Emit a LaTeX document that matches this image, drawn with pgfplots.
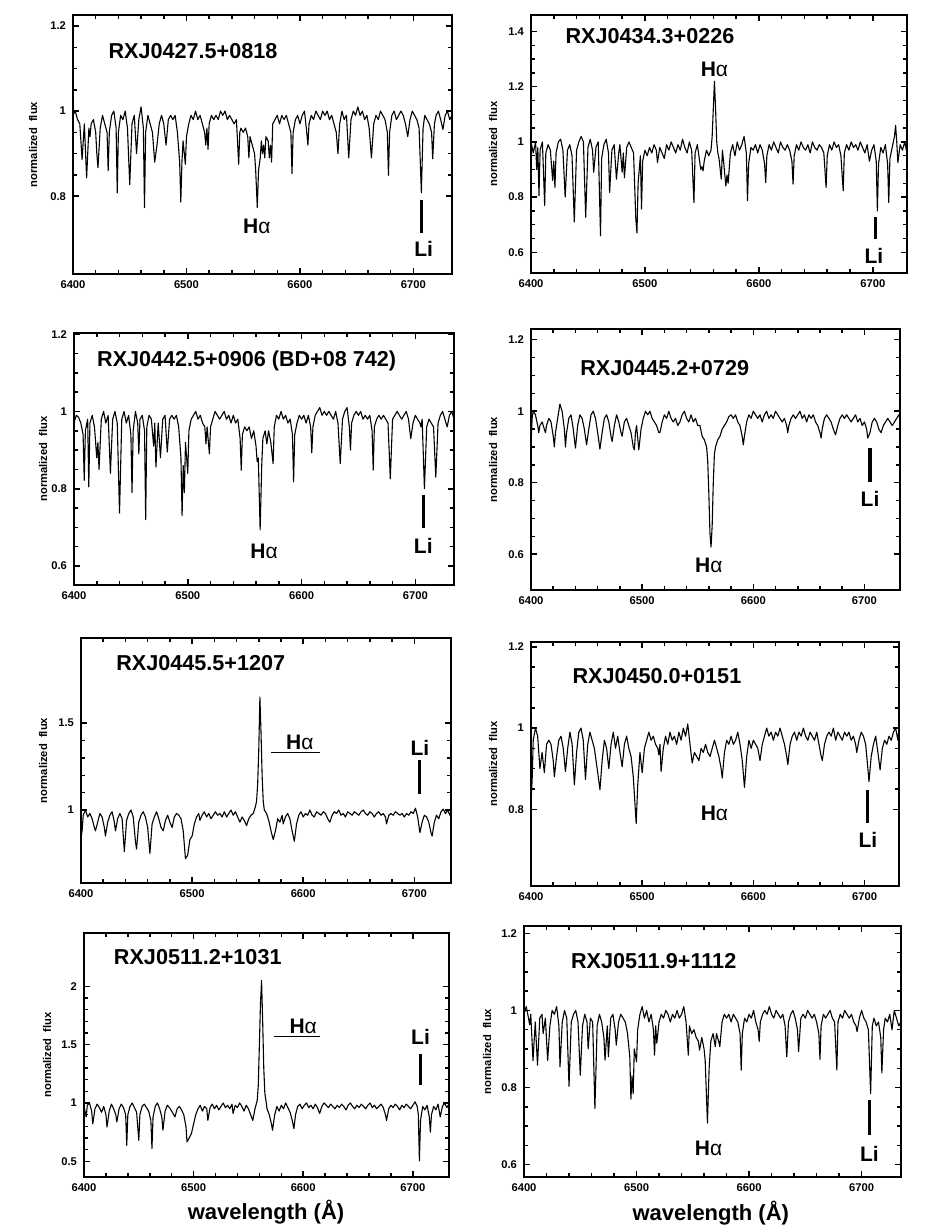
\documentclass[border=0pt]{standalone}
\usepackage{pgfplots}
\pgfplotsset{compat=1.18}
\usepackage{fontspec}
\setmainfont{Liberation Sans}

\newcommand\tickfont{\fontsize{5.6}{6.5}\selectfont\bfseries}
\newcommand\ttl{\fontsize{10.8}{12}\selectfont\bfseries}
\newcommand\lab{\fontsize{10.5}{12}\selectfont\bfseries}
\newcommand\ylab{\fontsize{5.6}{6.5}\selectfont\bfseries}
\newcommand\Ha{H{\mdseries α}}

\tikzset{libar/.style={line width=1.6pt}}
\pgfplotsset{
  spec/.style={
    scale only axis, anchor=south west,
    xmin=6400, xmax=6734,
    xtick={6400,6500,6600,6700}, minor x tick num=4, minor y tick num=3,
    tick align=inside, tick pos=both,
    axis line style={line width=0.8pt},
    major tick style={black, line width=0.75pt},
    minor tick style={black, line width=0.75pt},
    major tick length=3pt, minor tick length=1.9pt,
    xticklabel style={font=\tickfont},
    yticklabel style={font=\tickfont},
    /pgf/number format/1000 sep={},
    /pgf/number format/assume math mode=true,
    clip=true,
  },
  sp/.style={black, line width=0.55pt, line join=round},
}

\begin{document}
\begin{tikzpicture}
\useasboundingbox (0,0) rectangle (464.5pt,613pt);

% ---------- row 1 left
\begin{axis}[spec, at={(36.5pt,476pt)}, width=189.5pt, height=129.5pt,
  ymin=0.617, ymax=1.226, ytick={0.8,1,1.2}]
\addplot[sp] coordinates {
(6400,.99)(6402,1.0)(6404,.98)(6406,.97)(6408,.886)(6410,.97)(6412,.843)(6414,.96)(6415,.94)(6416,.97)
(6418,.98)(6420,.95)(6421,.90)(6422,.867)(6424,.96)(6426,.99)(6428,.97)(6430,.95)(6431,.86)(6432,.95)
(6434,.99)(6436,1.0)(6438,.96)(6439,.808)(6440,.95)(6442,.99)(6444,.98)(6446,1.0)(6448,.96)(6450,.827)
(6452,.97)(6454,.99)(6456,.90)(6458,.98)(6460,1.01)(6462,.96)(6463,.773)(6464,.95)(6466,.99)(6468,.97)
(6470,.95)(6472,.88)(6474,.92)(6476,.97)(6478,.99)(6480,.97)(6482,.92)(6484,.98)(6486,.99)(6488,.98)
(6490,.99)(6492,.95)(6494,.88)(6495,.786)(6496,.88)(6497,.93)(6499,.875)(6500,.94)(6502,.97)(6504,.99)
(6506,.98)(6508,1.0)(6510,.98)(6512,.99)(6514,.97)(6516,.95)(6517,.92)(6518,.96)(6519,.91)(6520,.97)
(6522,.99)(6524,.98)(6526,.99)(6528,.98)(6530,1.0)(6532,.99)(6534,1.0)(6536,.98)(6538,.99)(6540,.98)
(6542,.97)(6544,.98)(6546,.875)(6547,.95)(6548,.96)(6550,.95)(6552,.96)(6554,.94)(6555,.89)(6556,.94)
(6558,.92)(6560,.90)(6561,.86)(6562.4,.773)(6563.5,.86)(6565,.89)(6566,.93)(6567,.90)(6568,.92)(6569,.89)
(6570,.94)(6572,.93)(6573,.89)(6574,.92)(6575,.88)(6576,.97)(6578,.98)(6580,.99)(6582,.97)(6584,.99)
(6586,.98)(6588,.99)(6590,.97)(6592,.95)(6593,.853)(6594,.95)(6596,.98)(6598,.99)(6600,.97)(6602,.99)
(6604,1.0)(6606,.95)(6607,.92)(6608,.97)(6610,.99)(6612,.98)(6614,1.0)(6616,.99)(6618,.98)(6620,1.0)
(6622,.99)(6624,1.0)(6626,.98)(6628,.99)(6630,.97)(6632,.95)(6633.5,.90)(6635,.97)(6637,1.0)(6639,.98)
(6641,.99)(6643,.89)(6645,.98)(6647,1.0)(6649,.99)(6651,1.01)(6653,.99)(6655,1.0)(6657,.98)(6659,.99)
(6661,.96)(6663,.89)(6665,.97)(6667,.99)(6669,.98)(6671,1.0)(6673,.99)(6675,.98)(6677,.95)(6678,.849)
(6679,.95)(6681,.99)(6683,1.0)(6685,.98)(6687,.99)(6689,1.0)(6691,.99)(6693,.97)(6695,.94)(6697,.98)
(6699,1.0)(6701,.99)(6703,.98)(6705,.96)(6707,.808)(6708.5,.96)(6710,.99)(6712,.98)(6714,.97)(6716,.95)
(6717,.888)(6718.5,.97)(6720,.99)(6722,1.0)(6724,.98)(6726,.957)(6728,.99)(6730,1.0)(6732,.98)(6734,.99)
};
\node[anchor=west, inner sep=0pt, font=\ttl] at (axis cs:6431,1.141) {RXJ0427.5+0818};
\node[inner sep=0pt, font=\lab] at (axis cs:6562,0.73) {\Ha};
\draw[libar] (axis cs:6707,0.792) -- (axis cs:6707,0.714);
\node[inner sep=0pt, font=\lab] at (axis cs:6709,0.675) {Li};
\end{axis}

% ---------- row 1 right
\begin{axis}[spec, at={(265.5pt,476.5pt)}, width=188pt, height=129pt,
  xmax=6730, ymin=0.525, ymax=1.46, ytick={0.6,0.8,1,1.2,1.4}]
\addplot[sp] coordinates {
(6400,1.0)(6402,.96)(6404,1.0)(6405,.90)(6406,.98)(6407,.805)(6408,.97)(6410,1.0)(6412,.77)(6413,.96)
(6415,.99)(6417,.97)(6419,.86)(6420,.93)(6421,.835)(6422,.96)(6424,1.0)(6426,1.01)(6428,.97)(6430,.80)
(6432,.97)(6434,.99)(6436,.95)(6438,.71)(6440,.97)(6442,1.0)(6444,1.02)(6446,1.0)(6448,.727)(6450,.98)
(6452,1.01)(6454,.97)(6455,.89)(6457,.98)(6459,1.0)(6461,.66)(6462,.94)(6464,.99)(6466,1.01)(6468,.96)
(6469,.817)(6471,.97)(6473,.99)(6475,.865)(6477,.96)(6478,.99)(6480,.89)(6481,.96)(6482,.87)(6484,.98)
(6486,1.0)(6488,.98)(6490,.96)(6492,.72)(6493,.67)(6494,.85)(6496,.95)(6497,.757)(6498,.93)(6500,.97)
(6502,.95)(6504,.98)(6506,.96)(6508,.99)(6510,.97)(6511,.925)(6513,.98)(6515,.96)(6517,.94)(6519,.99)
(6521,.97)(6523,1.0)(6525,.98)(6527,.96)(6529,.99)(6531,.97)(6533,1.01)(6535,.98)(6537,.96)(6539,1.0)
(6541,.97)(6543,.78)(6544,.96)(6546,.99)(6548,.93)(6549,.90)(6550,.91)(6551,.895)(6552,.93)(6554,.97)
(6556,.95)(6558,.97)(6559,1.02)(6560,1.12)(6561,1.22)(6562,1.12)(6563,1.0)(6564,.96)(6565,.94)(6567,.865)
(6568,.97)(6569,.93)(6571,.84)(6572,.88)(6573,.85)(6575,.96)(6577,.99)(6579,.95)(6581,1.0)(6583,.97)
(6585,.99)(6587,1.02)(6589,.96)(6590,.787)(6591,.92)(6593,.98)(6595,.97)(6597,.99)(6599,.96)(6601,.99)
(6603,.97)(6605,.92)(6606,.853)(6607,.95)(6609,.99)(6611,.97)(6613,1.0)(6615,.98)(6617,.96)(6619,1.0)
(6621,.98)(6623,.97)(6625,.99)(6627,.97)(6629,.93)(6630,.847)(6631,.95)(6633,.99)(6635,.97)(6637,1.0)
(6639,.98)(6641,.97)(6643,.99)(6645,.96)(6647,1.0)(6649,.98)(6651,.97)(6653,.99)(6655,.98)(6657,.96)
(6659,.835)(6660,.95)(6662,.99)(6664,.97)(6666,1.0)(6668,.98)(6670,.99)(6672,.95)(6674,.823)(6675,.96)
(6677,.99)(6679,.97)(6681,1.0)(6683,.98)(6685,.99)(6687,.97)(6689,1.0)(6691,.98)(6693,.96)(6695,.99)
(6697,.93)(6699,.97)(6701,.99)(6703,.93)(6704,.75)(6705,.92)(6707,.98)(6709,.96)(6711,.99)(6713,.92)
(6714,.78)(6715,.94)(6717,.98)(6719,1.02)(6720,1.06)(6721,1.0)(6722,.925)(6724,.99)(6726,.97)(6728,1.0)
(6730,.96)
};
\node[anchor=west, inner sep=0pt, font=\ttl] at (axis cs:6430,1.383) {RXJ0434.3+0226};
\node[inner sep=0pt, font=\lab] at (axis cs:6561,1.263) {\Ha};
\draw[libar] (axis cs:6702,0.727) -- (axis cs:6702,0.648);
\node[inner sep=0pt, font=\lab] at (axis cs:6701,0.588) {Li};
\end{axis}

% ---------- row 2 left
\begin{axis}[spec, at={(37pt,320.5pt)}, width=190pt, height=126pt,
  ymin=0.551, ymax=1.203, ytick={0.6,0.8,1,1.2}]
\addplot[sp] coordinates {
(6400,.97)(6402,.99)(6404,.985)(6406,.97)(6408,.94)(6409,.822)(6410,.95)(6412,.98)(6413,.805)(6414,.97)
(6416,.99)(6418,.96)(6420,.88)(6421,.92)(6422,.85)(6424,.98)(6426,1.0)(6428,.97)(6430,.99)(6432,.84)
(6434,.98)(6436,1.0)(6438,.97)(6440,.737)(6442,.98)(6444,1.0)(6446,.97)(6448,.99)(6450,.94)(6451,.79)
(6452,.95)(6454,1.0)(6456,.97)(6457,.89)(6458,.98)(6460,.99)(6462,.95)(6463,.72)(6464,.96)(6466,.99)
(6468,.98)(6470,.91)(6471,.97)(6472,.856)(6474,.97)(6476,.88)(6478,.98)(6480,.99)(6482,.895)(6484,.98)
(6486,.99)(6488,.98)(6490,.99)(6492,.96)(6494,.88)(6495,.73)(6496,.86)(6497,.79)(6498,.92)(6500,.84)
(6501,.95)(6503,.98)(6505,.99)(6507,1.0)(6509,.98)(6511,.99)(6513,.97)(6515,.96)(6516,.916)(6517,.96)
(6519,.89)(6520,.96)(6522,.98)(6524,1.0)(6526,.99)(6528,.98)(6530,.99)(6532,1.0)(6534,.98)(6536,.99)
(6538,.97)(6540,.99)(6542,.97)(6544,.98)(6546,.93)(6547,.848)(6548,.94)(6550,.96)(6552,.95)(6554,.96)
(6556,.93)(6558,.95)(6560,.91)(6561,.87)(6562,.88)(6563.6,.694)(6565,.86)(6566,.93)(6568,.95)(6569.5,.916)
(6571,.95)(6573,.92)(6575,.865)(6576,.96)(6578,.99)(6580,.98)(6582,1.0)(6584,.98)(6586,.99)(6588,.97)
(6590,.98)(6592,.94)(6593,.818)(6594,.94)(6596,.97)(6598,.99)(6600,.98)(6602,.99)(6604,.97)(6606,.99)
(6608,.96)(6609,.893)(6610,.96)(6612,.99)(6614,1.0)(6616,1.01)(6618,.99)(6620,1.0)(6622,.99)(6624,1.0)
(6626,.99)(6628,.98)(6630,1.0)(6632,.97)(6634,.865)(6636,.98)(6638,1.0)(6640,1.01)(6642,.96)(6643,.90)
(6644,.97)(6646,.99)(6648,1.0)(6650,.99)(6652,1.0)(6654,.98)(6656,.99)(6658,.98)(6660,.99)(6662,.95)
(6663,.848)(6664,.96)(6666,.98)(6668,.99)(6670,.98)(6672,.99)(6674,.98)(6676,.97)(6678,.826)(6680,.98)
(6682,.99)(6684,1.0)(6686,.99)(6688,.98)(6690,.99)(6692,1.0)(6694,.98)(6696,.93)(6698,.97)(6700,.99)
(6702,.98)(6704,.97)(6705,.96)(6706,.98)(6708,.80)(6710,.96)(6712,.98)(6714,.97)(6716,.96)(6718,.83)
(6720,.97)(6722,.99)(6724,1.0)(6726,.98)(6728,.96)(6730,.99)(6732,1.0)(6734,.98)
};
\node[anchor=west, inner sep=0pt, font=\ttl] at (axis cs:6420,1.13) {RXJ0442.5+0906 (BD+08 742)};
\node[inner sep=0pt, font=\lab] at (axis cs:6567,0.638) {\Ha};
\draw[libar] (axis cs:6707,0.784) -- (axis cs:6707,0.698);
\node[inner sep=0pt, font=\lab] at (axis cs:6707,0.651) {Li};
\end{axis}

% ---------- row 2 right
\begin{axis}[spec, at={(265.5pt,318pt)}, width=184.5pt, height=130.5pt,
  xmax=6732, ymin=0.50, ymax=1.23, ytick={0.6,0.8,1,1.2}]
\addplot[sp] coordinates {
(6400,.90)(6401,.98)(6402,1.0)(6404,.99)(6406,.96)(6407,.94)(6408,.96)(6410,.97)(6412,.95)(6413,.94)
(6414,.96)(6416,.98)(6418,.97)(6420,.93)(6421,.90)(6422,.94)(6424,.98)(6426,1.02)(6428,1.0)(6430,.95)
(6431,.90)(6432,.94)(6434,.98)(6436,.99)(6438,.95)(6440,.897)(6442,.96)(6444,.99)(6446,.98)(6448,.95)
(6450,.906)(6452,.95)(6454,.99)(6456,1.0)(6458,.98)(6460,.94)(6462,.894)(6464,.94)(6466,.98)(6468,.99)
(6470,.97)(6472,.93)(6473,.915)(6475,.96)(6477,.99)(6479,.97)(6481,.94)(6482,.93)(6484,.97)(6486,.98)
(6488,.96)(6490,.94)(6492,.90)(6493,.892)(6494,.94)(6495,.96)(6497,.892)(6499,.95)(6501,.98)(6503,1.0)
(6505,.99)(6507,1.0)(6509,.98)(6511,.97)(6513,.96)(6515,.94)(6516,.94)(6518,.97)(6520,.99)(6522,.98)
(6524,1.0)(6526,.98)(6528,.97)(6530,.98)(6532,.96)(6534,.97)(6536,.99)(6538,1.0)(6540,.98)(6542,.97)
(6544,.99)(6546,.97)(6548,.98)(6550,.96)(6552,.96)(6554,.93)(6556,.92)(6558,.90)(6559,.86)(6560,.77)
(6561,.66)(6562,.62)(6563,.68)(6564,.80)(6565,.88)(6566,.90)(6568,.92)(6570,.93)(6572,.95)(6574,.96)
(6576,.97)(6578,.985)(6580,.99)(6582,.98)(6584,.99)(6586,.97)(6588,.96)(6590,.93)(6591,.906)(6592,.93)
(6594,.97)(6596,.99)(6598,.98)(6600,1.0)(6602,.99)(6604,.98)(6606,.99)(6608,.97)(6610,.99)(6612,1.0)
(6614,.98)(6616,.99)(6618,.98)(6620,1.0)(6622,.99)(6624,.98)(6626,.97)(6628,.98)(6630,.96)(6631,.94)
(6632,.96)(6634,.98)(6636,.99)(6638,.98)(6640,.99)(6642,1.0)(6644,.98)(6646,.99)(6648,.97)(6650,.99)
(6652,.98)(6654,.99)(6656,.97)(6658,.96)(6660,.94)(6661,.925)(6662,.95)(6664,.98)(6666,.99)(6668,.98)
(6670,.97)(6672,.95)(6674,.934)(6676,.96)(6678,.98)(6680,.99)(6682,.98)(6684,.99)(6686,.98)(6688,.97)
(6690,.98)(6692,.99)(6694,.97)(6696,.98)(6698,.96)(6700,.97)(6702,.95)(6703,.925)(6705,.94)(6707,.97)
(6709,.98)(6711,.97)(6713,.95)(6715,.94)(6717,.96)(6719,.97)(6721,.98)(6723,.97)(6725,.96)(6727,.97)
(6729,.98)(6731,.99)(6732,.98)
};
\node[anchor=west, inner sep=0pt, font=\ttl] at (axis cs:6444,1.122) {RXJ0445.2+0729};
\node[inner sep=0pt, font=\lab] at (axis cs:6560,0.568) {\Ha};
\draw[libar] (axis cs:6705,0.897) -- (axis cs:6705,0.803);
\node[inner sep=0pt, font=\lab] at (axis cs:6705,0.756) {Li};
\end{axis}

% ---------- row 3 left
\begin{axis}[spec, at={(40.5pt,171.5pt)}, width=185pt, height=122.5pt,
  xmax=6733, ymin=0.58, ymax=1.99, ytick={1,1.5}, minor y tick num=4]
\addplot[sp] coordinates {
(6400,.84)(6401,.88)(6402,.97)(6404,1.0)(6406,.96)(6408,.98)(6410,.95)(6412,.90)(6413,.88)(6415,.93)
(6417,.98)(6419,.96)(6421,.90)(6422,.85)(6424,.93)(6426,.97)(6428,.99)(6430,.93)(6431,.88)(6433,.95)
(6435,.98)(6437,.95)(6439,.76)(6441,.94)(6443,.98)(6445,1.0)(6447,.96)(6449,.82)(6450,.775)(6452,.93)
(6454,.97)(6456,.99)(6458,.96)(6460,.90)(6462,.75)(6464,.92)(6466,.96)(6468,.99)(6470,.95)(6472,.90)
(6474,.88)(6476,.94)(6478,.97)(6480,.93)(6482,.90)(6484,.96)(6486,.98)(6488,.97)(6490,.95)(6492,.88)
(6494,.72)(6496,.74)(6498,.83)(6500,.85)(6502,.92)(6504,.96)(6506,.98)(6507,.94)(6509,.97)(6511,.99)
(6513,.96)(6515,.98)(6517,.95)(6519,.97)(6521,.99)(6523,.97)(6525,.98)(6527,.96)(6529,.99)(6531,.96)
(6533,.98)(6535,1.0)(6537,.97)(6539,.99)(6541,.96)(6543,.93)(6545,.96)(6547,.94)(6549,.91)(6551,.95)
(6553,.97)(6555,.98)(6557,1.02)(6558,1.05)(6559,1.15)(6560,1.35)(6561,1.65)(6562,1.45)(6563,1.2)(6564,1.05)
(6565,1.0)(6567,.98)(6569,.94)(6571,.88)(6573,.83)(6575,.88)(6577,.95)(6579,.93)(6581,.97)(6582,.92)
(6584,.96)(6586,.98)(6588,.95)(6590,.88)(6592,.82)(6594,.92)(6596,.97)(6598,.99)(6600,.96)(6602,.98)
(6604,.97)(6606,1.0)(6608,.97)(6610,.96)(6612,.99)(6614,.98)(6616,.97)(6618,.99)(6620,.98)(6622,.95)
(6624,.93)(6626,.97)(6628,.99)(6630,.98)(6632,1.0)(6634,.97)(6636,.98)(6638,.96)(6640,.99)(6642,.98)
(6644,.97)(6646,.99)(6648,.98)(6650,.97)(6652,.99)(6654,1.0)(6656,.98)(6658,.97)(6660,.99)(6662,.98)
(6664,.96)(6666,.98)(6668,.99)(6670,.97)(6672,.98)(6674,.96)(6675,.92)(6677,.97)(6679,.98)(6681,.97)
(6683,.99)(6685,.98)(6687,.97)(6689,.98)(6691,.96)(6693,.98)(6695,.97)(6697,.99)(6699,.98)(6701,1.01)
(6703,.96)(6705,.87)(6707,.93)(6709,.97)(6711,.96)(6713,.93)(6715,.87)(6716,.85)(6718,.93)(6720,.97)
(6722,.95)(6724,.99)(6726,1.005)(6728,.98)(6730,1.0)(6732,.97)(6733,.99)
};
\node[anchor=west, inner sep=0pt, font=\ttl] at (axis cs:6431.5,1.846) {RXJ0445.5+1207};
\node[inner sep=0pt, font=\lab] at (axis cs:6597,1.39) {\Ha};
\draw[line width=0.6pt] (axis cs:6571,1.333) -- (axis cs:6615,1.333);
\node[inner sep=0pt, font=\lab] at (axis cs:6705,1.36) {Li};
\draw[libar] (axis cs:6705,1.285) -- (axis cs:6705,1.09);
\end{axis}

% ---------- row 3 right
\begin{axis}[spec, at={(265.5pt,170pt)}, width=184pt, height=122pt,
  xmax=6731, ymin=0.611, ymax=1.212, ytick={0.8,1,1.2}]
\addplot[sp] coordinates {
(6400,.82)(6401,.87)(6402,.97)(6404,1.0)(6406,.98)(6408,.90)(6410,.94)(6412,.89)(6414,.96)(6416,.97)
(6418,.96)(6420,.92)(6421,.88)(6423,.93)(6425,.97)(6427,.98)(6429,.95)(6431,.893)(6433,.95)(6435,.99)
(6437,.96)(6439,.86)(6441,.94)(6443,.99)(6445,1.0)(6447,.97)(6449,.873)(6451,.96)(6453,.99)(6455,.97)
(6457,.95)(6459,.91)(6461,.87)(6462,.848)(6464,.92)(6466,.97)(6468,.95)(6470,.90)(6472,.96)(6474,.99)
(6476,.95)(6478,.98)(6480,.94)(6482,.905)(6484,.96)(6486,.98)(6488,.95)(6490,.93)(6492,.88)(6494.6,.765)
(6496,.86)(6498,.94)(6500,.89)(6502,.95)(6504,.97)(6506,.99)(6508,.97)(6510,.98)(6512,.96)(6514,.95)
(6515,.934)(6516,.96)(6517,.893)(6519,.95)(6521,.98)(6523,.96)(6525,.99)(6527,.97)(6529,.98)(6531,.96)
(6533,.99)(6535,.97)(6537,1.0)(6539,.98)(6541,1.01)(6543,.96)(6545,.914)(6547,.94)(6549,.93)(6551,.92)
(6553,.95)(6555,.94)(6557,.96)(6559,.94)(6561,.93)(6563,.95)(6565,.97)(6567,.95)(6569,.93)(6571,.90)
(6572,.877)(6574,.94)(6576,.97)(6578,.96)(6580,.98)(6582,.96)(6584,.97)(6586,.99)(6588,.96)(6590,.92)
(6592,.854)(6594,.93)(6596,.97)(6598,.95)(6600,.97)(6602,.96)(6604,.95)(6606,.92)(6608,.96)(6610,.98)
(6612,1.0)(6614,.98)(6616,.99)(6618,.97)(6620,.99)(6622,.98)(6624,1.0)(6626,.98)(6628,.96)(6630,.93)
(6631,.91)(6633,.96)(6635,.98)(6637,.99)(6639,.97)(6641,.99)(6643,.98)(6645,1.0)(6647,.98)(6649,.97)
(6651,.99)(6653,.98)(6655,.97)(6657,.99)(6659,.96)(6661,.93)(6662,.92)(6664,.96)(6666,.98)(6668,.99)
(6670,.98)(6672,1.0)(6674,.97)(6676,.99)(6678,.98)(6680,.97)(6682,.99)(6684,.98)(6686,.99)(6688,.97)
(6690,.98)(6692,.96)(6693,.94)(6695,.97)(6697,.99)(6699,.98)(6701,.96)(6703,.90)(6704,.868)(6706,.93)
(6708,.96)(6710,.98)(6712,.94)(6714,.897)(6716,.95)(6718,.97)(6720,.96)(6722,.98)(6724,.97)(6726,.99)
(6728,1.0)(6730,.97)(6731,1.0)
};
\node[anchor=west, inner sep=0pt, font=\ttl] at (axis cs:6437,1.129) {RXJ0450.0+0151};
\node[inner sep=0pt, font=\lab] at (axis cs:6565,0.79) {\Ha};
\draw[libar] (axis cs:6703,0.848) -- (axis cs:6703,0.765);
\node[inner sep=0pt, font=\lab] at (axis cs:6703,0.724) {Li};
\end{axis}

% ---------- row 4 left
\begin{axis}[spec, at={(42pt,24.5pt)}, width=182.5pt, height=122pt,
  xmax=6733, ymin=0.365, ymax=2.457, ytick={0.5,1,1.5,2}, minor y tick num=4]
\addplot[sp] coordinates {
(6400,.97)(6402,.88)(6403,.98)(6405,1.0)(6407,.93)(6408,.82)(6410,.95)(6412,.99)(6414,.96)(6416,.92)
(6418,.97)(6420,.90)(6421,.794)(6423,.93)(6425,.99)(6427,.95)(6429,.90)(6430,.837)(6432,.95)(6434,.99)
(6436,.96)(6438,.90)(6439,.637)(6440,.90)(6442,.97)(6444,1.0)(6446,.96)(6448,.92)(6450,.68)(6451,.90)
(6453,.97)(6455,.99)(6457,.96)(6459,.93)(6461,.85)(6462,.61)(6463,.88)(6465,.97)(6467,1.0)(6469,.95)
(6471,.88)(6472,.766)(6474,.93)(6476,.98)(6478,.96)(6480,.93)(6483,.88)(6485,.95)(6487,.97)(6489,.94)
(6491,.90)(6493,.80)(6494,.666)(6496,.70)(6498,.737)(6500,.82)(6502,.90)(6504,.95)(6506,.98)(6508,.93)
(6510,.97)(6512,.95)(6513,.85)(6515,.96)(6517,.99)(6519,.95)(6521,.98)(6523,.94)(6525,.97)(6527,1.0)
(6529,.96)(6531,.98)(6533,.95)(6535,.99)(6536,.91)(6538,.98)(6540,.96)(6542,1.0)(6544,.97)(6546,.93)
(6548,.98)(6550,.95)(6552,.90)(6554,.85)(6556,.95)(6558,1.02)(6559,1.15)(6560,1.5)(6561,1.85)(6562,2.05)
(6563,1.7)(6564,1.3)(6565,1.08)(6566,1.02)(6567,.95)(6569,.90)(6571,.82)(6572,.766)(6574,.90)(6576,.97)
(6578,.93)(6580,.98)(6582,.95)(6584,1.0)(6586,.96)(6588,.92)(6590,.85)(6591.5,.78)(6593,.90)(6595,.97)
(6597,.99)(6599,.95)(6601,.98)(6603,1.0)(6605,.96)(6607,.98)(6609,.95)(6611,.99)(6613,.96)(6615,.91)
(6617,.97)(6619,1.0)(6621,.98)(6623,.96)(6625,.99)(6627,.97)(6629,.95)(6631,.98)(6633,.96)(6635,.99)
(6637,.97)(6639,.94)(6641,.98)(6643,1.0)(6645,.97)(6647,.95)(6649,.98)(6651,.96)(6653,.99)(6655,.97)
(6657,.95)(6659,.98)(6661,1.0)(6663,.96)(6665,.98)(6667,.95)(6669,.97)(6671,.99)(6673,.96)(6675,.90)
(6676,.85)(6678,.95)(6680,.98)(6682,.96)(6684,.99)(6686,.97)(6688,.94)(6690,.98)(6692,.96)(6694,.99)
(6696,.97)(6698,.95)(6700,.98)(6702,1.01)(6704,.97)(6705,.90)(6706,.503)(6707,.85)(6709,.97)(6711,.94)
(6713,.98)(6715,.88)(6716,.75)(6717,.90)(6719,.97)(6721,.94)(6723,.99)(6725,.88)(6727,.97)(6729,1.0)
(6731,.96)(6733,.99)
};
\node[anchor=west, inner sep=0pt, font=\ttl] at (axis cs:6427,2.25) {RXJ0511.2+1031};
\node[inner sep=0pt, font=\lab] at (axis cs:6600,1.657) {\Ha};
\draw[line width=0.6pt] (axis cs:6573,1.571) -- (axis cs:6615,1.571);
\node[inner sep=0pt, font=\lab] at (axis cs:6707,1.566) {Li};
\draw[libar] (axis cs:6707,1.42) -- (axis cs:6707,1.15);
\end{axis}

% ---------- row 4 right
\begin{axis}[spec, at={(262pt,24.5pt)}, width=188.5pt, height=125.5pt,
  xmax=6735, ymin=0.568, ymax=1.219, ytick={0.6,0.8,1,1.2}]
\addplot[sp] coordinates {
(6400,.99)(6402,1.01)(6404,.98)(6405,.963)(6406,.99)(6408,.87)(6410,.97)(6412,.858)(6414,.98)(6416,.99)
(6417,.94)(6419,.98)(6421,.87)(6423,.96)(6425,1.0)(6427,.99)(6429,1.01)(6431,.96)(6432,.854)(6434,.97)
(6436,1.0)(6438,.98)(6440,.803)(6442,.97)(6444,.99)(6446,1.0)(6448,.97)(6450,.832)(6452,.96)(6454,.99)
(6456,.97)(6457,.90)(6459,.98)(6461,.97)(6463,.745)(6465,.96)(6467,.99)(6469,.97)(6471,.93)(6472,.871)
(6474,.96)(6475,.88)(6477,.98)(6479,.99)(6481,.95)(6482,.91)(6484,.97)(6486,.99)(6488,.98)(6490,.97)
(6492,.94)(6494,.88)(6495,.77)(6496,.83)(6497,.784)(6498,.90)(6500,.867)(6501,.95)(6503,.99)(6505,1.01)
(6507,.98)(6509,1.0)(6511,.97)(6513,.99)(6515,.95)(6516,.884)(6517,.96)(6518,.915)(6520,.97)(6522,.99)
(6524,.98)(6526,1.0)(6528,.99)(6530,.97)(6532,.99)(6534,.98)(6536,1.0)(6538,.98)(6540,.99)(6542,1.01)
(6544,.97)(6546,.884)(6547,.96)(6549,.94)(6551,.95)(6553,.93)(6555,.92)(6556,.897)(6558,.93)(6560,.90)
(6561,.87)(6563,.708)(6564.5,.85)(6566,.92)(6568,.94)(6570,.906)(6571,.94)(6573,.92)(6574,.906)(6576,.97)
(6578,.99)(6580,.98)(6582,.99)(6584,.97)(6586,.99)(6588,.98)(6590,.97)(6592,.94)(6593,.845)(6594,.94)
(6596,.98)(6598,.97)(6600,.99)(6602,.98)(6604,1.0)(6606,.97)(6608,.95)(6609,.92)(6610,.97)(6612,.99)
(6614,1.0)(6616,.99)(6618,1.01)(6620,.99)(6622,.98)(6624,1.0)(6626,.99)(6628,.98)(6630,.99)(6632,.96)
(6633.5,.88)(6635,.97)(6637,.99)(6639,1.0)(6641,.98)(6643,.95)(6644,.893)(6646,.98)(6648,.99)(6650,.98)
(6652,1.0)(6654,.99)(6656,.98)(6658,.99)(6660,.97)(6662,.94)(6663,.873)(6664,.96)(6666,.99)(6668,.98)
(6670,.99)(6672,1.0)(6674,.98)(6676,.97)(6678,.845)(6679,.97)(6681,.99)(6683,.98)(6685,1.0)(6687,.99)
(6689,.98)(6691,.99)(6693,.97)(6695,.96)(6696,.945)(6698,.98)(6700,1.0)(6702,.98)(6704,.97)(6706,.95)
(6708,.784)(6709.5,.96)(6711,.98)(6713,.96)(6715,.97)(6717,.93)(6718,.838)(6719.5,.95)(6721,.98)(6723,.97)
(6725,.99)(6727,.95)(6729,1.0)(6731,.98)(6733,.96)(6735,.97)
};
\node[anchor=west, inner sep=0pt, font=\ttl] at (axis cs:6441.5,1.128) {RXJ0511.9+1112};
\node[inner sep=0pt, font=\lab] at (axis cs:6564,0.641) {\Ha};
\draw[libar] (axis cs:6707,0.767) -- (axis cs:6707,0.676);
\node[inner sep=0pt, font=\lab] at (axis cs:6707,0.628) {Li};
\end{axis}

% ---------- y labels and x labels
\foreach \x/\y in {16.5/540.75, 246.5/541, 21.5/383.5, 246.5/383.25,
                   21.5/232.75, 246.5/231, 23.5/85.5, 243.5/87.25}
  \node[rotate=90, font=\ylab, inner sep=0pt] at (\x pt,\y pt) {normalized\ \ flux};
\node[font=\fontsize{11}{13}\selectfont\bfseries, inner sep=0pt] at (133pt,7pt) {wavelength (Å)};
\node[font=\fontsize{11}{13}\selectfont\bfseries, inner sep=0pt] at (355.4pt,6.5pt) {wavelength (Å)};
\end{tikzpicture}
\end{document}
